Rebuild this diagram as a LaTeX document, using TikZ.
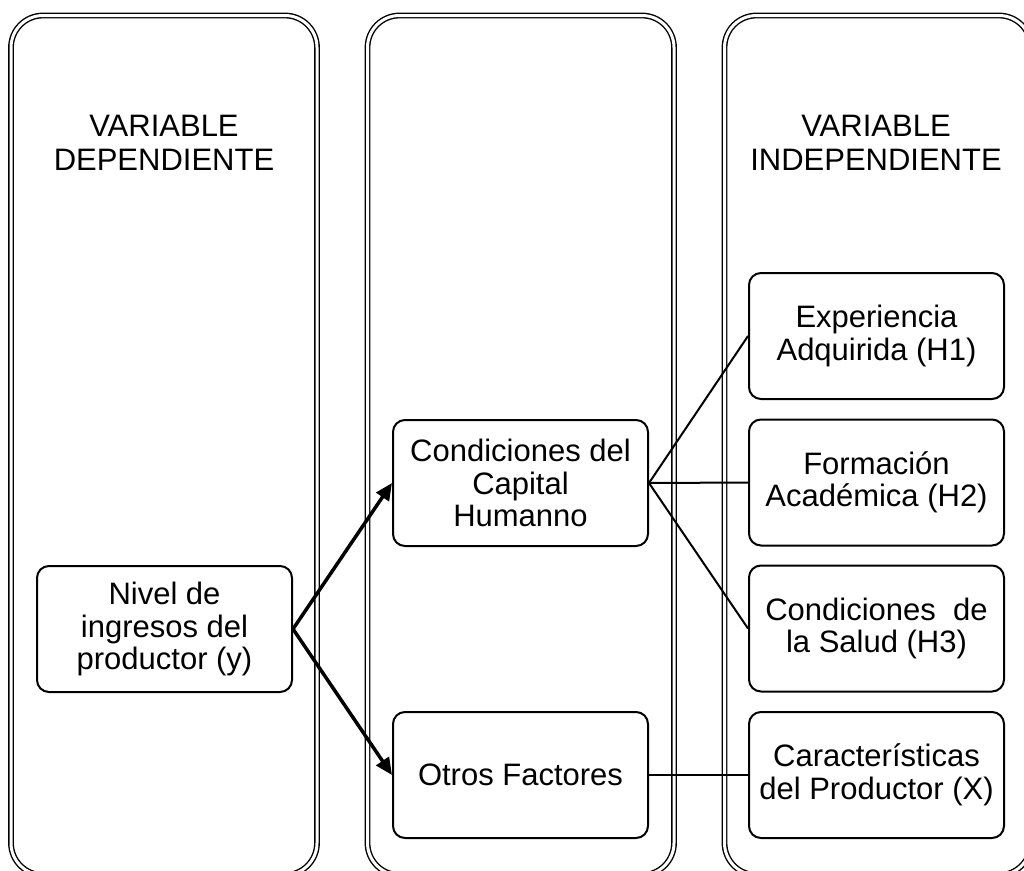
\documentclass[tikz,border=0pt]{standalone}
\usepackage{fontspec}
\setmainfont{Liberation Sans}
\usetikzlibrary{arrows.meta}
\tikzset{
  column/.style={draw=black, line width=1.4pt, double=white, double distance=3pt, rounded corners=32pt},
  box/.style={draw=black, line width=2pt, rounded corners=12pt, minimum width=255pt, minimum height=126pt, inner sep=0pt, align=center, font=\fontsize{31}{32.5}\selectfont},
  title/.style={inner sep=0pt, align=center, font=\fontsize{31}{34}\selectfont},
  link/.style={draw=black, line width=2pt},
  arrowlink/.style={draw=black, line width=3.5pt, -{Triangle[length=17pt,width=15pt]}}
}
\begin{document}
\begin{tikzpicture}[x=1pt,y=-1pt]
\useasboundingbox (0,0) rectangle (1024,870);
\clip (0,0) rectangle (1024,870);
\fill[white] (0,0) rectangle (1024,870);
% columns
\draw[column] (11,15.5) rectangle (317,875);
\draw[column] (367.5,15.5) rectangle (674,875);
\draw[column] (724.5,15.5) rectangle (1031,875);
% titles
\node[title] (tdep) at (164,143) {VARIABLE\\DEPENDIENTE};
\node[title] (tind) at (876,143) {VARIABLE\\INDEPENDIENTE};
% boxes
\node[box] (nivel) at (164.5,629) {Nivel de\\ingresos del\\productor (y)};
\node[box] (cond) at (520.5,483) {Condiciones del\\Capital\\Humanno};
\node[box] (otros) at (520.5,775) {Otros Factores};
\node[box] (h1) at (876.5,336) {Experiencia\\Adquirida (H1)};
\node[box] (h2) at (876.5,482.5) {Formación\\Académica (H2)};
\node[box] (h3) at (876.5,628.5) {Condiciones\ \ de\\la Salud (H3)};
\node[box] (car) at (876.5,775) {Características\\del Productor (X)};
% connectors
\draw[arrowlink] (nivel.east) -- (cond.west);
\draw[arrowlink] (nivel.east) -- (otros.west);
\draw[link] (cond.east) -- (h1.west);
\draw[link] (cond.east) -- (h2.west);
\draw[link] (cond.east) -- (h3.west);
\draw[link] (otros.east) -- (car.west);
\end{tikzpicture}
\end{document}
